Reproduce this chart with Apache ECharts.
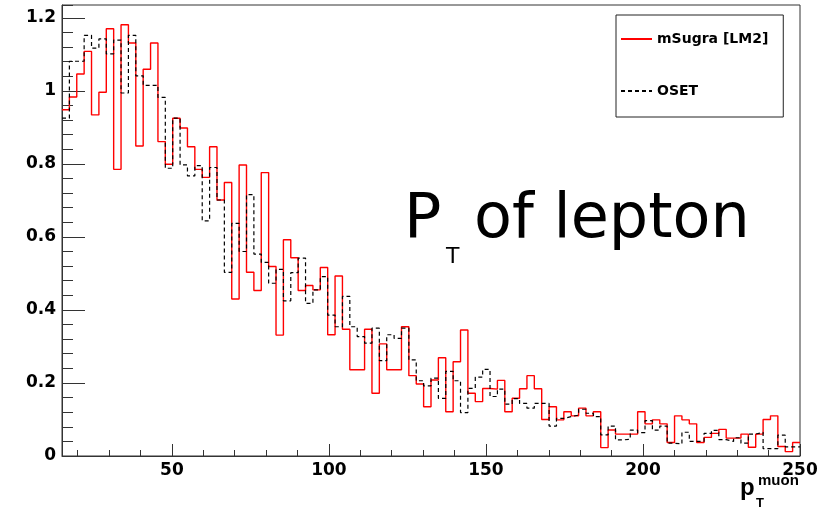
<!DOCTYPE html>
<html>
<head>
<meta charset="utf-8">
<script src="https://cdn.jsdelivr.net/npm/echarts@6/dist/echarts.min.js"></script>
<style>
html, body { margin: 0; padding: 0; background: #fff; }
#chart { width: 833px; height: 519px; }
</style>
</head>
<body>
<div id="chart"></div>
<script>
// histogram range, 100 bins
const xMin = 15
const xMax = 250
const binWidth = 2.35
const yMax = 1.235

const xMajorTicks = [50, 100, 150, 200, 250]
const xMinorTicks = [20, 30, 40, 60, 70, 80, 90, 110, 120, 130, 140, 160, 170, 180, 190, 210, 220, 230, 240]

// mSugra [LM2], one value per bin
const mSugra = [
  0.948, 0.983, 1.046, 1.108, 0.934, 0.996, 1.170, 0.785, 1.181, 1.131,
  0.849, 1.059, 1.131, 0.861, 0.799, 0.925, 0.898, 0.847, 0.785, 0.763,
  0.847, 0.701, 0.749, 0.430, 0.797, 0.503, 0.453, 0.776, 0.519, 0.331,
  0.592, 0.543, 0.453, 0.467, 0.455, 0.516, 0.332, 0.493, 0.347, 0.236,
  0.236, 0.347, 0.172, 0.307, 0.236, 0.236, 0.354, 0.220, 0.197, 0.135,
  0.208, 0.269, 0.121, 0.258, 0.345, 0.172, 0.149, 0.185, 0.183, 0.207,
  0.121, 0.158, 0.184, 0.220, 0.184, 0.100, 0.135, 0.099, 0.121, 0.110,
  0.131, 0.110, 0.121, 0.023, 0.071, 0.060, 0.060, 0.060, 0.121, 0.088,
  0.099, 0.088, 0.037, 0.110, 0.099, 0.088, 0.037, 0.051, 0.062, 0.073,
  0.049, 0.049, 0.060, 0.024, 0.060, 0.100, 0.110, 0.026, 0.012, 0.037,
]

// OSET, one value per bin
const oset = [
  0.925, 1.081, 1.081, 1.152, 1.117, 1.142, 1.101, 1.139, 0.994, 1.152,
  1.041, 1.015, 1.015, 0.982, 0.788, 0.925, 0.797, 0.767, 0.795, 0.644,
  0.790, 0.701, 0.503, 0.637, 0.560, 0.716, 0.553, 0.530, 0.473, 0.511,
  0.425, 0.502, 0.542, 0.418, 0.455, 0.491, 0.386, 0.354, 0.437, 0.354,
  0.327, 0.309, 0.350, 0.261, 0.332, 0.322, 0.350, 0.263, 0.206, 0.192,
  0.213, 0.158, 0.232, 0.206, 0.119, 0.185, 0.216, 0.237, 0.163, 0.183,
  0.142, 0.157, 0.144, 0.131, 0.144, 0.144, 0.082, 0.103, 0.108, 0.112,
  0.128, 0.117, 0.108, 0.058, 0.082, 0.044, 0.046, 0.071, 0.064, 0.097,
  0.071, 0.082, 0.035, 0.033, 0.065, 0.040, 0.040, 0.062, 0.070, 0.045,
  0.040, 0.050, 0.035, 0.060, 0.065, 0.020, 0.020, 0.057, 0.025, 0.025,
]

// bin left edges -> step points, last point closes the final bin
function histPoints(values) {
  const pts = values.map((v, i) => [xMin + i * binWidth, v])
  pts.push([xMax, values[values.length - 1]])
  return pts
}

const frameColor = '#333'
const labelFont = { fontFamily: 'DejaVu Sans', fontWeight: 'bold', fontSize: 17, color: '#000' }

const chart = echarts.init(document.getElementById('chart'))

chart.setOption({
  animation: false,
  backgroundColor: '#fff',
  grid: {
    show: true,
    left: 62,
    right: 33,
    top: 5,
    bottom: 63,
    borderColor: frameColor,
    borderWidth: 1,
  },
  xAxis: [{
    type: 'value',
    min: xMin,
    max: xMax,
    position: 'bottom',
    axisLine: { lineStyle: { color: frameColor } },
    axisTick: { inside: true, length: 12, customValues: xMajorTicks, lineStyle: { color: frameColor } },
    axisLabel: { customValues: xMajorTicks, margin: 6, ...labelFont },
    splitLine: { show: false },
  }, {
    // minor ticks only
    type: 'value',
    min: xMin,
    max: xMax,
    position: 'bottom',
    axisLine: { show: false },
    axisTick: { inside: true, length: 6, customValues: xMinorTicks, lineStyle: { color: frameColor } },
    axisLabel: { show: false },
    splitLine: { show: false },
  }],
  yAxis: [{
    type: 'value',
    min: 0,
    max: yMax,
    interval: 0.2,
    position: 'left',
    axisLine: { show: true, lineStyle: { color: frameColor } },
    axisTick: { inside: true, length: 23, lineStyle: { color: frameColor } },
    axisLabel: { showMaxLabel: false, margin: 6, ...labelFont },
    splitLine: { show: false },
  }, {
    type: 'value',
    min: 0,
    max: yMax,
    interval: 0.04,
    position: 'left',
    axisLine: { show: false },
    axisTick: { inside: true, length: 11, lineStyle: { color: frameColor } },
    axisLabel: { show: false },
    splitLine: { show: false },
  }],
  legend: {
    orient: 'vertical',
    left: 616,
    top: 15,
    padding: [17, 15, 19, 4],
    itemGap: 38,
    itemWidth: 31,
    itemHeight: 14,
    borderColor: '#222',
    borderWidth: 1,
    backgroundColor: '#fff',
    // hide the symbol, keep only the line
    itemStyle: { color: 'rgba(0,0,0,0)', borderColor: 'rgba(0,0,0,0)', borderWidth: 0 },
    textStyle: { fontFamily: 'DejaVu Sans', fontWeight: 'bold', fontSize: 14, color: '#000' },
    data: ['mSugra [LM2]', 'OSET'],
  },
  graphic: [
    { type: 'text', style: { x: 404, y: 221, text: 'P', verticalAlign: 'middle', font: '62px "DejaVu Sans"', fill: '#000' } },
    { type: 'text', style: { x: 446, y: 257, text: 'T', verticalAlign: 'middle', font: '22px "DejaVu Sans"', fill: '#000' } },
    { type: 'text', style: { x: 474, y: 221, text: 'of lepton', verticalAlign: 'middle', font: '62px "DejaVu Sans"', fill: '#000' } },
    { type: 'text', style: { x: 740, y: 488, text: 'p', verticalAlign: 'middle', font: 'bold 24px "Liberation Sans"', fill: '#000' } },
    { type: 'text', style: { x: 758, y: 481, text: 'muon', verticalAlign: 'middle', font: 'bold 15px "Liberation Sans"', fill: '#000' } },
    { type: 'text', style: { x: 756, y: 503, text: 'T', verticalAlign: 'middle', font: 'bold 13px "Liberation Sans"', fill: '#000' } },
  ],
  series: [{
    name: 'mSugra [LM2]',
    type: 'line',
    step: 'end',
    symbol: 'none',
    xAxisIndex: 0,
    yAxisIndex: 0,
    lineStyle: { color: '#ff0000', width: 1.4 },
    itemStyle: { color: '#ff0000' },
    data: histPoints(mSugra),
  }, {
    name: 'OSET',
    type: 'line',
    step: 'end',
    symbol: 'none',
    xAxisIndex: 0,
    yAxisIndex: 0,
    lineStyle: { color: '#000', width: 1.2, type: [4, 3] },
    itemStyle: { color: '#000' },
    data: histPoints(oset),
  }],
})
</script>
</body>
</html>
